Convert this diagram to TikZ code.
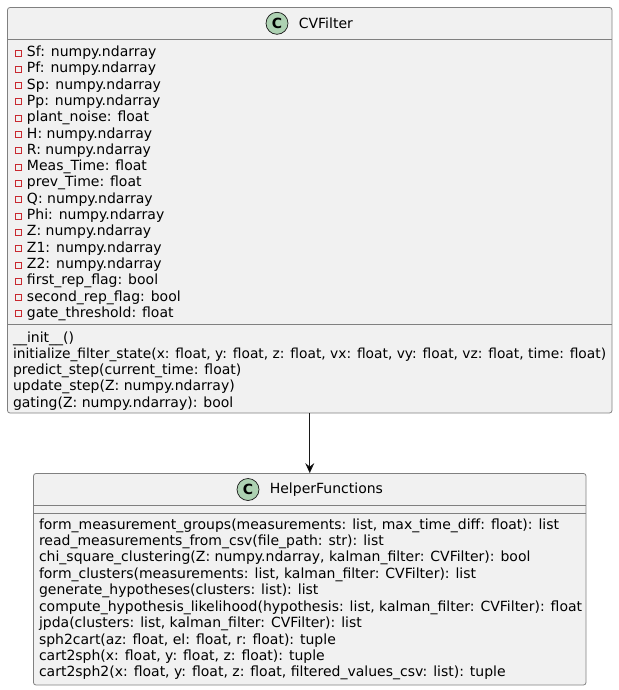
\documentclass[tikz,border=0pt]{standalone}
\usepackage{fontspec}
\setmainfont{DejaVu Sans}
\usetikzlibrary{arrows.meta,positioning}
\definecolor{classfill}{HTML}{F1F1F1}
\definecolor{classline}{HTML}{808080}
\definecolor{spotfill}{HTML}{ADD1B2}
\definecolor{inkline}{HTML}{181818}
\definecolor{privred}{HTML}{C82930}
\tikzset{
    %Define standard arrow tip
    >={Stealth[length=10pt,width=9pt,inset=3.5pt]},
    %Define style for class boxes
    classbox/.style={
           rectangle,
           rounded corners=2.5pt,
           draw=classline, line width=0.8pt,
           fill=classfill},
    spot/.style={
           circle,
           draw=inkline, line width=0.7pt,
           fill=spotfill,
           minimum size=22pt,
           inner sep=0pt,
           font=\fontsize{14}{14}\selectfont\bfseries},
    title/.style={
           inner sep=0pt,
           outer sep=0pt,
           font=\fontsize{14}{16}\selectfont},
    rule/.style={
           draw=classline, line width=0.8pt},
    % Define member styles
    member/.style={
           inner sep=0pt,
           outer sep=0pt,
           text height=12pt,
           text depth=4.3pt,
           font=\fontsize{14}{16}\selectfont},
    helpermember/.style={
           member,
           text depth=4.44pt},
    attr/.style={
           member,
           label={[privmark]left:{}}},
    privmark/.style={
           rectangle,
           draw=privred, line width=0.9pt,
           minimum size=6pt,
           inner sep=0pt,
           outer sep=0pt,
           xshift=-5.5pt,yshift=-0.4pt},
    next/.style={
           below=0pt of #1.south west,
           anchor=north west},
    % Define arrow style
    arr/.style={
           ->,
           draw=inkline,
           line width=0.8pt}
}
\begin{document}
\begin{tikzpicture}[x=1pt,y=1pt]
  \useasboundingbox (0,0) rectangle (618,-690);

  % upper class
  \node[classbox, minimum width=604.5pt, minimum height=405.5pt] (cvfilter) at (309.75,-210.25) {};
  \node[spot] (cvspot) at (277,-23.3) {C};
  \node[title, right=10.5pt of cvspot] (cvtitle) {CVFilter};
  \draw[rule] (cvfilter.west |- 0,-39.5) coordinate (cvhead) -- (cvhead -| cvfilter.east);
  \draw[rule] (cvfilter.west |- 0,-324) coordinate (cvsep) -- (cvsep -| cvfilter.east);

  \node[attr, anchor=north west] (sf) at (27,-44.5) {Sf: numpy.ndarray};
  \node[attr, next=sf] (pf) {Pf: numpy.ndarray};
  \node[attr, next=pf] (sp) {Sp: numpy.ndarray};
  \node[attr, next=sp] (pp) {Pp: numpy.ndarray};
  \node[attr, next=pp] (noise) {plant\_noise: float};
  \node[attr, next=noise] (h) {H: numpy.ndarray};
  \node[attr, next=h] (r) {R: numpy.ndarray};
  \node[attr, next=r] (meastime) {Meas\_Time: float};
  \node[attr, next=meastime] (prevtime) {prev\_Time: float};
  \node[attr, next=prevtime] (q) {Q: numpy.ndarray};
  \node[attr, next=q] (phi) {Phi: numpy.ndarray};
  \node[attr, next=phi] (z) {Z: numpy.ndarray};
  \node[attr, next=z] (zone) {Z1: numpy.ndarray};
  \node[attr, next=zone] (ztwo) {Z2: numpy.ndarray};
  \node[attr, next=ztwo] (firstflag) {first\_rep\_flag: bool};
  \node[attr, next=firstflag] (secondflag) {second\_rep\_flag: bool};
  \node[attr, next=secondflag] (threshold) {gate\_threshold: float};

  \node[member, anchor=north west] (init) at (13,-330) {\_\_init\_\_()};
  \node[member, next=init, font=\fontsize{13.8}{16}\selectfont] (initstate) {initialize\_filter\_state(x: float, y: float, z: float, vx: float, vy: float, vz: float, time: float)};
  \node[member, next=initstate] (predict) {predict\_step(current\_time: float)};
  \node[member, next=predict] (update) {update\_step(Z: numpy.ndarray)};
  \node[member, next=update] (gating) {gating(Z: numpy.ndarray): bool};

  % lower class
  \node[classbox, minimum width=552.5pt, minimum height=211.5pt] (helper) at (309.75,-579.25) {};
  \node[spot] (helperspot) at (248,-489.5) {C};
  \node[title, right=10.5pt of helperspot] (helpertitle) {HelperFunctions};
  \draw[rule] (helper.west |- 0,-505.5) coordinate (helperhead) -- (helperhead -| helper.east);
  \draw[rule] (helper.west |- 0,-513.5) coordinate (helpersep) -- (helpersep -| helper.east);

  \node[helpermember, anchor=north west] (groups) at (39,-517) {form\_measurement\_groups(measurements: list, max\_time\_diff: float): list};
  \node[helpermember, next=groups] (readcsv) {read\_measurements\_from\_csv(file\_path: str): list};
  \node[helpermember, next=readcsv] (chisquare) {chi\_square\_clustering(Z: numpy.ndarray, kalman\_filter: CVFilter): bool};
  \node[helpermember, next=chisquare] (clusters) {form\_clusters(measurements: list, kalman\_filter: CVFilter): list};
  \node[helpermember, next=clusters] (hypotheses) {generate\_hypotheses(clusters: list): list};
  \node[helpermember, next=hypotheses] (likelihood) {compute\_hypothesis\_likelihood(hypothesis: list, kalman\_filter: CVFilter): float};
  \node[helpermember, next=likelihood] (jpda) {jpda(clusters: list, kalman\_filter: CVFilter): list};
  \node[helpermember, next=jpda] (sphcart) {sph2cart(az: float, el: float, r: float): tuple};
  \node[helpermember, next=sphcart] (cartsph) {cart2sph(x: float, y: float, z: float): tuple};
  \node[helpermember, next=cartsph] (cartsphtwo) {cart2sph2(x: float, y: float, z: float, filtered\_values\_csv: list): tuple};

  \path[arr] (cvfilter) edge (helper);
\end{tikzpicture}
\end{document}
